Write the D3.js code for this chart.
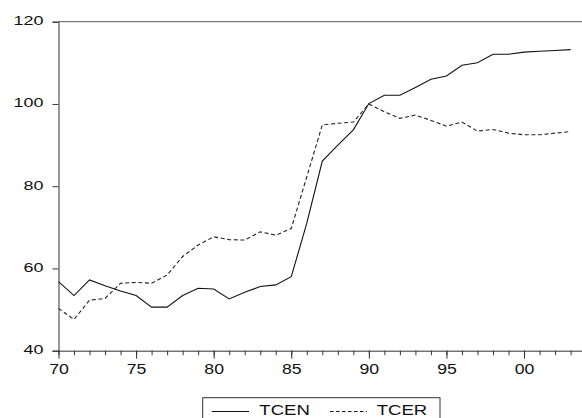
<!DOCTYPE html>
<html>
<head>
<meta charset="utf-8">
<script src="https://cdn.jsdelivr.net/npm/d3@7"></script>
<style>
  html, body { margin: 0; padding: 0; background: #fff; }
  svg { display: block; }
</style>
</head>
<body>
<svg id="chart" width="582" height="418"></svg>
<script>
const years = d3.range(1970, 2004);
const tcen = [56.8, 53.4, 57.2, 55.8, 54.5, 53.4, 50.6, 50.6, 53.4, 55.2,
              55.0, 52.6, 54.2, 55.6, 56.0, 58.0, 71.0, 86.1, 90.0, 93.7,
              100.1, 102.1, 102.1, 104.0, 106.0, 106.8, 109.4, 110.0, 112.1, 112.1,
              112.6, 112.8, 113.0, 113.2];
const tcer = [50.3, 47.6, 52.3, 52.7, 56.4, 56.6, 56.4, 58.4, 62.9, 65.7,
              67.7, 67.0, 66.9, 68.9, 68.1, 69.7, 82.3, 94.9, 95.3, 95.6,
              100.0, 98.1, 96.5, 97.3, 96.0, 94.6, 95.6, 93.4, 93.8, 92.9,
              92.5, 92.5, 92.9, 93.3];
const yTicks = [40, 60, 80, 100, 120];
const xMajor = [1970, 1975, 1980, 1985, 1990, 1995, 2000];
const seriesNames = ["TCEN", "TCER"];

(function () {
const svg = d3.select("#chart");
const pL = 58.5, pR = 570.6, pT = 21.7, pB = 350.7;
const x = d3.scaleLinear().domain([1970, 2003]).range([pL, pR]);
const y = d3.scaleLinear().domain([40, 120]).range([pB, pT]);
const font = "'Liberation Sans', Arial, sans-serif";
const axisColor = "#333";

// frame (top edge, extending past right edge)
svg.append("line").attr("x1", pL).attr("x2", 600).attr("y1", pT).attr("y2", pT)
  .attr("stroke", "#555").attr("stroke-width", 1);

// Y axis
const sxY = 1.38;
const gy = svg.append("g").attr("transform", `translate(${pL},0)`)
  .call(d3.axisLeft(y).tickValues(yTicks).tickSize(6).tickPadding(9).tickFormat(d3.format("d")));
gy.select(".domain").attr("stroke", axisColor);
gy.selectAll(".tick line").attr("stroke", axisColor);
gy.selectAll(".tick text")
  .attr("font-family", font).attr("font-size", 13).attr("fill", "#111")
  .attr("x", -15 / sxY).attr("dy", "0.22em")
  .attr("transform", `scale(${sxY},1)`);

// X axis minor ticks
const gxm = svg.append("g").attr("transform", `translate(0,${pB})`)
  .call(d3.axisBottom(x).tickValues(years).tickSize(4.5).tickFormat(""));
gxm.select(".domain").remove();
gxm.selectAll(".tick line").attr("stroke", axisColor);

// X axis major ticks + labels
const sxX = 1.22;
const gx = svg.append("g").attr("transform", `translate(0,${pB})`)
  .call(d3.axisBottom(x).tickValues(xMajor).tickSizeInner(8).tickSizeOuter(0).tickPadding(5)
    .tickFormat(d => d3.format("02d")(d % 100)));
gx.select(".domain").attr("d", `M${pL},0.5H600`).attr("stroke", axisColor);
gx.selectAll(".tick line").attr("stroke", axisColor);
gx.selectAll(".tick text")
  .attr("font-family", font).attr("font-size", 14.5).attr("fill", "#111")
  .attr("text-anchor", "middle")
  .attr("transform", `scale(${sxX},1)`);

// Lines
const line = d3.line().x((d, i) => x(years[i])).y(d => y(d));
svg.append("path").datum(tcen).attr("d", line)
  .attr("fill", "none").attr("stroke", "#111").attr("stroke-width", 1.1);
svg.append("path").datum(tcer).attr("d", line)
  .attr("fill", "none").attr("stroke", "#222").attr("stroke-width", 1.1)
  .attr("stroke-dasharray", "4,2.6");

// Legend
const lg = svg.append("g");
lg.append("rect").attr("x", 202.7).attr("y", 397.7).attr("width", 237.3).attr("height", 40)
  .attr("fill", "#fff").attr("stroke", "#333").attr("stroke-width", 1);
lg.append("line").attr("x1", 211.7).attr("x2", 249).attr("y1", 411.5).attr("y2", 411.5)
  .attr("stroke", "#111").attr("stroke-width", 1);
lg.append("line").attr("x1", 330).attr("x2", 367).attr("y1", 411.5).attr("y2", 411.5)
  .attr("stroke", "#111").attr("stroke-width", 1).attr("stroke-dasharray", "3.5,2.5");
const sxL = 1.28;
[[259.3, seriesNames[0]], [376.7, seriesNames[1]]].forEach(([tx, t]) => {
  lg.append("text").attr("x", tx / sxL).attr("y", 414.6)
    .attr("transform", `scale(${sxL},1)`)
    .attr("font-family", font).attr("font-size", 14.5).attr("fill", "#111")
    .text(t);
});
})();
</script>
</body>
</html>
